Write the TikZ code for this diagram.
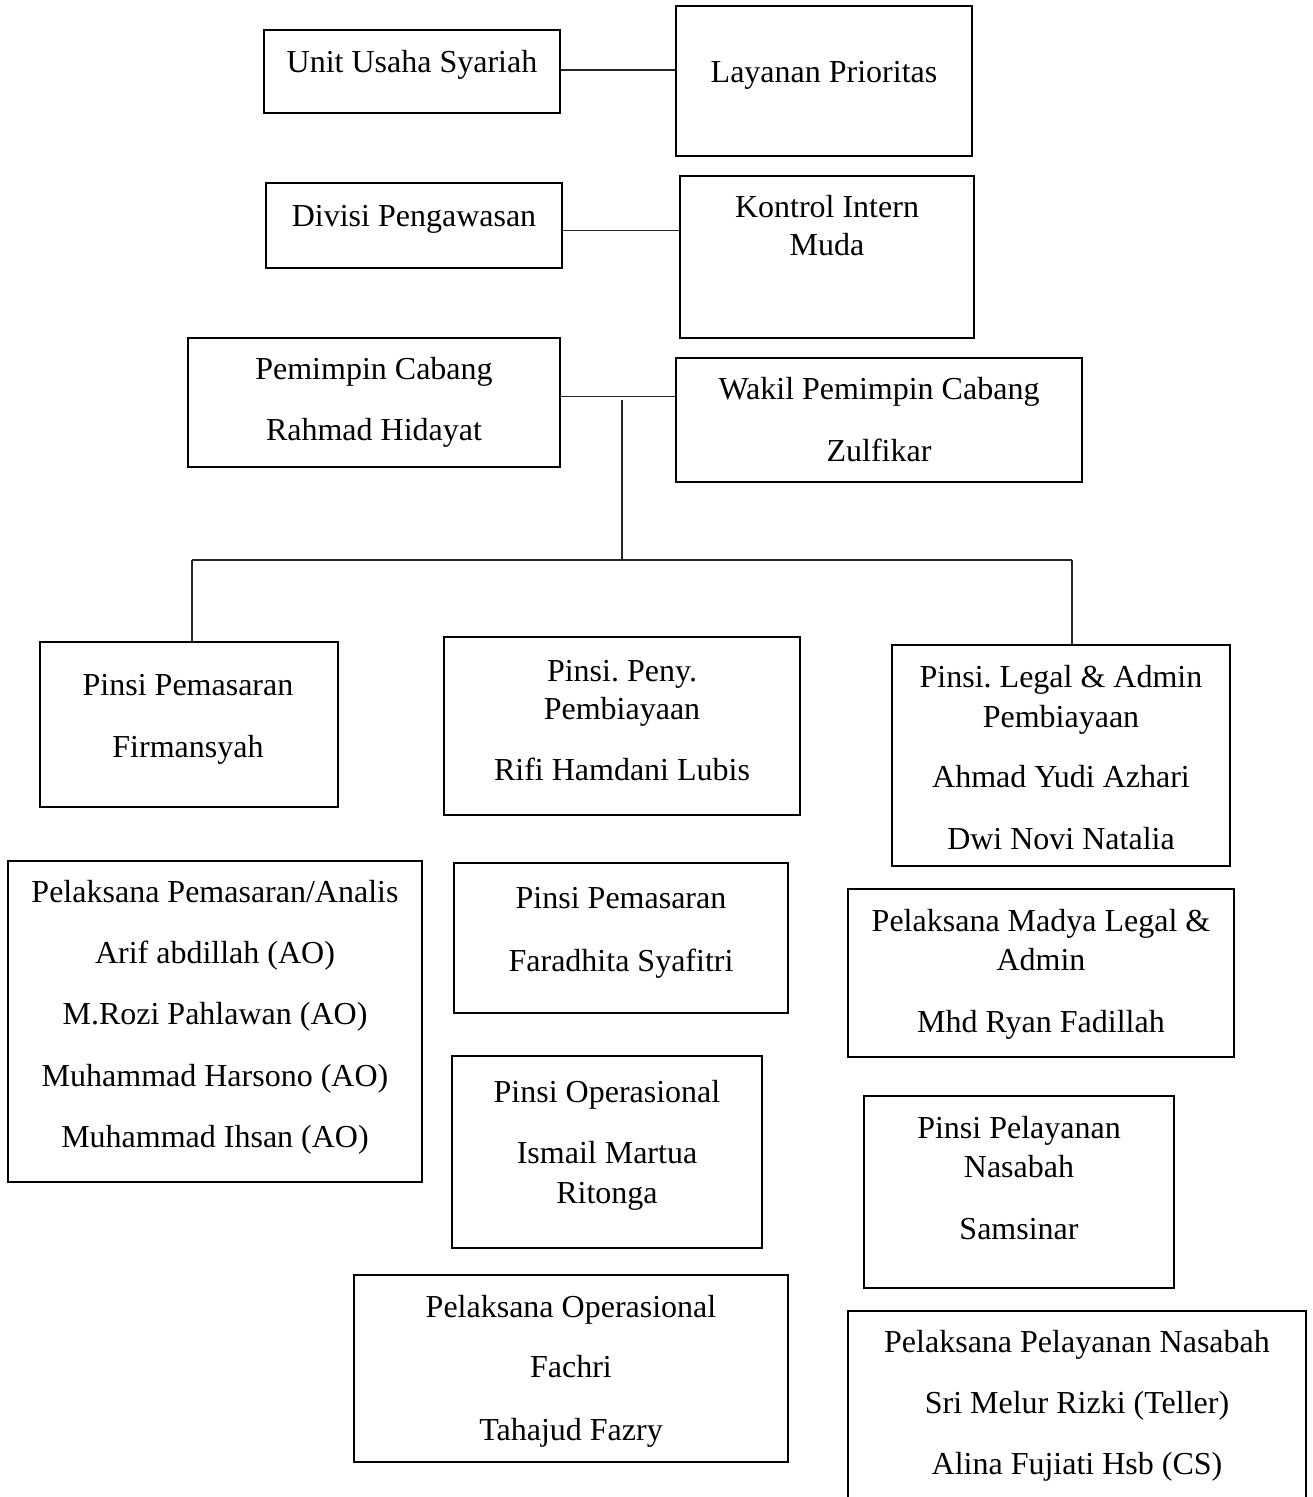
\documentclass[tikz,border=0pt]{standalone}
\usepackage{fontspec}
\setmainfont{Liberation Serif}
\frenchspacing
\begin{document}
\begin{tikzpicture}[x=0.5pt,y=-0.5pt,
  box/.style={draw=black, line width=1pt, inner sep=0pt, fill=none},
  txt/.style={inner sep=0pt, font=\fontsize{16}{19}\selectfont},
  link/.style={draw=black!85, line width=0.7pt}]
\clip (0,0) rectangle (1312,1497);
\fill[white] (0,0) rectangle (1312,1497);
\newcommand{\orgbox}[5]{\node[box, minimum width={(#4-#2)*0.5pt}, minimum height={(#5-#3)*0.5pt}] (#1) at ({(#2+#4)/2},{(#3+#5)/2}) {};}
\newcommand{\tline}[4]{\node[txt, anchor=base] (#1) at (#2,#3) {#4};}
% boxes
\orgbox{uus}{264}{30}{560}{113}
\orgbox{lp}{676}{6}{972}{156}
\orgbox{dp}{266}{183}{562}{268}
\orgbox{kim}{680}{176}{974}{338}
\orgbox{pc}{188}{338}{560}{467}
\orgbox{wpc}{676}{358}{1082}{482}
\orgbox{pp}{40}{642}{338}{807}
\orgbox{ppp}{444}{637}{800}{815}
\orgbox{pla}{892}{645}{1230}{866}
\orgbox{ppa}{8}{861}{422}{1182}
\orgbox{pf}{454}{863}{788}{1013}
\orgbox{pml}{848}{889}{1234}{1057}
\orgbox{po}{452}{1056}{762}{1248}
\orgbox{ppn}{864}{1096}{1174}{1288}
\orgbox{pop}{354}{1275}{788}{1462}
\orgbox{pln}{848}{1311}{1306}{1530}
% texts
\tline{uus1}{412}{73}{Unit Usaha Syariah}
\tline{lp1}{824}{83}{Layanan Prioritas}
\tline{dp1}{414}{227}{Divisi Pengawasan}
\tline{kim1}{827}{218}{Kontrol Intern}
\tline{kim2}{827}{256}{Muda}
\tline{pc1}{374}{380}{Pemimpin Cabang}
\tline{pc2}{374}{441}{Rahmad Hidayat}
\tline{wpc1}{879}{400}{Wakil Pemimpin Cabang}
\tline{wpc2}{879}{461}{Zulfikar}
\tline{pp1}{188}{695}{Pinsi Pemasaran}
\tline{pp2}{188}{757}{Firmansyah}
\tline{ppp1}{622}{681}{Pinsi. Peny.}
\tline{ppp2}{622}{719}{Pembiayaan}
\tline{ppp3}{622}{780}{Rifi Hamdani Lubis}
\tline{pla1}{1061}{687}{Pinsi. Legal \& Admin}
\tline{pla2}{1061}{727}{Pembiayaan}
\tline{pla3}{1061}{787}{Ahmad Yudi Azhari}
\tline{pla4}{1061}{849}{Dwi Novi Natalia}
\tline{ppa1}{215}{902}{Pelaksana Pemasaran/Analis}
\tline{ppa2}{215}{963}{Arif abdillah (AO)}
\tline{ppa3}{215}{1024}{M.Rozi Pahlawan (AO)}
\tline{ppa4}{215}{1086}{Muhammad Harsono (AO)}
\tline{ppa5}{215}{1147}{Muhammad Ihsan (AO)}
\tline{pf1}{621}{908}{Pinsi Pemasaran}
\tline{pf2}{621}{971}{Faradhita Syafitri}
\tline{pml1}{1041}{931}{Pelaksana Madya Legal \&}
\tline{pml2}{1041}{970}{Admin}
\tline{pml3}{1041}{1032}{Mhd Ryan Fadillah}
\tline{po1}{607}{1102}{Pinsi Operasional}
\tline{po2}{607}{1163}{Ismail Martua}
\tline{po3}{607}{1203}{Ritonga}
\tline{ppn1}{1019}{1138}{Pinsi Pelayanan}
\tline{ppn2}{1019}{1177}{Nasabah}
\tline{ppn3}{1019}{1239}{Samsinar}
\tline{pop1}{571}{1317}{Pelaksana Operasional}
\tline{pop2}{571}{1377}{Fachri}
\tline{pop3}{571}{1440}{Tahajud Fazry}
\tline{pln1}{1077}{1352}{Pelaksana Pelayanan Nasabah}
\tline{pln2}{1077}{1413}{Sri Melur Rizki (Teller)}
\tline{pln3}{1077}{1474}{Alina Fujiati Hsb (CS)}
% connectors
\draw[link] ([yshift=0.75pt]uus.east) -- ([yshift=0.75pt]uus.east -| lp.west);
\draw[link] ([yshift=-2.5pt]dp.east) -- ([yshift=-2.5pt]dp.east -| kim.west);
\draw[link] ([yshift=3pt]pc.east) -- ([yshift=3pt]pc.east -| wpc.west);
\coordinate (top) at (622,400);
\coordinate (hub) at (622,560);
\coordinate (lft) at (192,560);
\coordinate (rgt) at (1072,560);
\draw[link] (top) -- (hub);
\draw[link] (lft) -- (rgt);
\draw[link] (lft) -- (lft |- pp.north);
\draw[link] (rgt) -- (rgt |- pla.north);
\end{tikzpicture}
\end{document}
